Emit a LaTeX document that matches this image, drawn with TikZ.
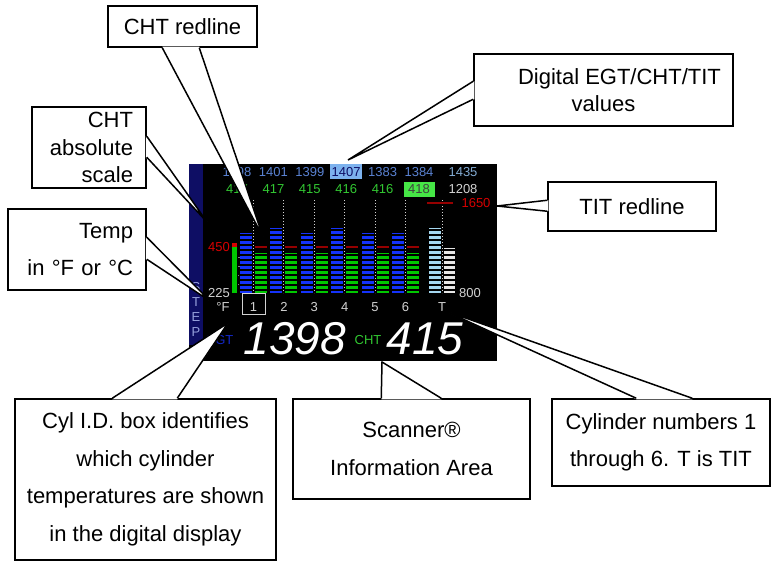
\documentclass[tikz,border=0pt]{standalone}
\usepackage{fontspec}
\setmainfont{Liberation Sans}
\usetikzlibrary{calc}

\definecolor{stepblue}{RGB}{14,14,100}
\definecolor{steptext}{RGB}{150,160,220}
\definecolor{egttext}{RGB}{90,130,210}
\definecolor{egtbar}{RGB}{20,50,250}
\definecolor{egtlabel}{RGB}{20,40,200}
\definecolor{chtbar}{RGB}{0,200,0}
\definecolor{chttext}{RGB}{50,200,50}
\definecolor{selblue}{RGB}{125,178,238}
\definecolor{selgreen}{RGB}{70,230,70}
\definecolor{tittext}{RGB}{130,170,210}
\definecolor{titbar}{RGB}{165,215,240}
\definecolor{darkred}{RGB}{150,0,0}
\definecolor{scalered}{RGB}{215,0,0}
\definecolor{lcdgray}{RGB}{210,210,210}

\begin{document}
\begin{tikzpicture}
        [x=1pt,y=-1pt,
         note/.style={draw,fill=white,line width=1.5pt,inner sep=0pt,align=center,
                      font=\fontsize{22}{27.5}\selectfont},
         roomy/.style={font=\fontsize{22}{37.5}\selectfont},
         pointer/.style={line width=1.5pt},
         lcd/.style={inner sep=0pt,font=\fontsize{13}{13}\selectfont},
         egtval/.style={lcd,text=egttext},
         egtsel/.style={lcd,text=stepblue,fill=selblue,minimum width=32pt,minimum height=15pt},
         chtval/.style={lcd,text=chttext},
         chtsel/.style={lcd,text=black!75,fill=selgreen,minimum width=31pt,minimum height=15pt},
         bigdig/.style={inner sep=0pt,text=white,font=\fontsize{46}{46}\selectfont\itshape},
         redline/.style={darkred,line width=1.5pt},
         dotline/.style={lcdgray,dotted,line width=1pt}]
        \useasboundingbox (0,0) rectangle (771,561);

        % the screen
        \fill[black] (189,164) rectangle (497,361);
        \fill[stepblue] (189,164) rectangle (203,345);
        \foreach \c [count=\k] in {S,T,E,P}
            \node[lcd,text=steptext] (step\k) at (196,272+15*\k) {\c};

        % bars
        \fill[scalered] (232,243) rectangle (237,247);
        \fill[chtbar] (232,247) rectangle (237,293);
        \foreach \y in {257,266,275,284}
            \draw[gray] (238,\y) -- (240,\y);
        \foreach \i/\top in {1/233,2/228,3/233,4/228,5/233,6/233}{
            \pgfmathsetmacro\x{240+30.4*(\i-1)}
            \fill[egtbar] (\x,\top) rectangle (\x+12,293);
            \fill[chtbar] (\x+15,253) rectangle (\x+27,293);
        }
        \fill[titbar] (429,228) rectangle (441,293);
        \fill[white!90!black] (444,248) rectangle (455,293);
        \foreach \y in {290,285,...,225}
            \draw[black,line width=1.2pt] (239,\y) -- (457,\y);
        \foreach \i in {1,...,6}{
            \pgfmathsetmacro\x{240+30.4*(\i-1)}
            \draw[dotline] (\x+13.5,200) -- (\x+13.5,293);
            \draw[redline] (\x+15,247) -- (\x+27,247);
            \node[lcd,text=lcdgray] (cyl\i) at (\x+13.5,307) {\i};
        }
        \draw[dotline] (442,200) -- (442,293);
        \draw[redline] (427,203) -- (453,203);
        \node[draw=lcdgray,line width=1pt,minimum width=23pt,minimum height=21pt] (selbox) at (253.5,304.5) {};
        \node[lcd,text=lcdgray] (cylT) at (442,307) {T};

        % values
        \foreach \i/\egt/\es/\cht/\cs in {1/1398/egtval/417/chtval,2/1401/egtval/417/chtval,
                3/1399/egtval/415/chtval,4/1407/egtsel/416/chtval,
                5/1383/egtval/416/chtval,6/1384/egtval/418/chtsel}{
            \node[\es] (egt\i) at (237+36.4*\i-36.4,172) {\egt};
            \node[\cs] (cht\i) at (237+36.4*\i-36.4,189.5) {\cht};
        }
        \node[lcd,text=tittext] (egtT) at (463,172) {1435};
        \node[lcd,text=lcdgray] (chtT) at (463,189.5) {1208};
        \node[lcd,text=scalered] (titmax) at (476,203) {1650};
        \node[lcd,text=scalered] (scalemax) at (219,247) {450};
        \node[lcd,text=lcdgray] (scalemin) at (219,293) {225};
        \node[lcd,text=lcdgray] (titmin) at (470,293) {800};
        \node[lcd,text=lcdgray] (unit) at (223,307) {°F};

        % digital readout
        \node[lcd,text=egtlabel] (egtlbl) at (220,340) {EGT};
        \node[bigdig] (egtread) at (295,339) {1398};
        \node[lcd,text=chttext] (chtlbl) at (368,340) {CHT};
        \node[bigdig] (chtread) at (425,339) {415};

        % callouts
        \node[note,minimum width=149pt,minimum height=41pt] (chtred) at (182.5,26.5) {CHT redline};
        \coordinate (chtredtip) at (263,237);
        \fill[white] ($(chtred.south west)+(55,-1)$) -- (chtredtip) -- ($(chtred.south west)+(92,-1)$);
        \draw[pointer] ($(chtred.south west)+(55,0)$) -- (chtredtip) -- ($(chtred.south west)+(92,0)$);

        \node[note,align=right,inner xsep=13pt,text width=88pt,minimum height=81pt] (chtscale) at (89,147.5) {CHT\\absolute\\scale};
        \coordinate (chtscaletip) at (207,222);
        \fill[white] ($(chtscale.north east)+(-1,30)$) -- (chtscaletip) -- ($(chtscale.north east)+(-1,51)$);
        \draw[pointer] ($(chtscale.north east)+(0,30)$) -- (chtscaletip) -- ($(chtscale.north east)+(0,51)$);

        \node[note,roomy,align=right,inner xsep=13pt,text width=112pt,minimum height=81pt] (temp) at (77,249.5) {Temp\\in °F or °C};
        \coordinate (temptip) at (210,301);
        \fill[white] ($(temp.north east)+(-1,29)$) -- (temptip) -- ($(temp.north east)+(-1,51)$);
        \draw[pointer] ($(temp.north east)+(0,29)$) -- (temptip) -- ($(temp.north east)+(0,51)$);

        \node[note,minimum width=259pt,minimum height=72pt] (digital) at (603.5,90) {\hspace*{32pt}Digital EGT/CHT/TIT\\values};
        \coordinate (digitaltip) at (348,160);
        \fill[white] ($(digital.north west)+(1,28)$) -- (digitaltip) -- ($(digital.north west)+(1,46)$);
        \draw[pointer] ($(digital.north west)+(0,28)$) -- (digitaltip) -- ($(digital.north west)+(0,46)$);

        \node[note,minimum width=168pt,minimum height=49pt] (titred) at (632,206.5) {TIT redline};
        \coordinate (titredtip) at (497,206);
        \fill[white] ($(titred.north west)+(1,19)$) -- (titredtip) -- ($(titred.north west)+(1,30)$);
        \draw[pointer] ($(titred.north west)+(0,19)$) -- (titredtip) -- ($(titred.north west)+(0,30)$);

        \node[note,roomy,minimum width=261pt,minimum height=161pt] (cylid) at (145.5,479.5)
            {Cyl I.D. box identifies\\which cylinder\\temperatures are shown\\in the digital display};
        \coordinate (cylidtip) at (228,323);
        \fill[white] ($(cylid.north west)+(98,1)$) -- (cylidtip) -- ($(cylid.north west)+(163,1)$);
        \draw[pointer] ($(cylid.north west)+(98,0)$) -- (cylidtip) -- ($(cylid.north west)+(163,0)$);

        \node[note,roomy,minimum width=237pt,minimum height=100pt] (scanner) at (411.5,449) {Scanner®\\Information Area};
        \coordinate (scannertip) at (382,362);
        \fill[white] ($(scanner.north west)+(89,1)$) -- (scannertip) -- ($(scanner.north west)+(149,1)$);
        \draw[pointer] ($(scanner.north west)+(89,0)$) -- (scannertip) -- ($(scanner.north west)+(149,0)$);

        \node[note,roomy,minimum width=218pt,minimum height=87pt] (cylnum) at (661,442.5) {Cylinder numbers 1\\through 6. T is TIT};
        \coordinate (cylnumtip) at (443,310);
        \fill[white] ($(cylnum.north west)+(85,1)$) -- (cylnumtip) -- ($(cylnum.north west)+(141,1)$);
        \draw[pointer] ($(cylnum.north west)+(85,0)$) -- (cylnumtip) -- ($(cylnum.north west)+(141,0)$);
    \end{tikzpicture}
\end{document}
